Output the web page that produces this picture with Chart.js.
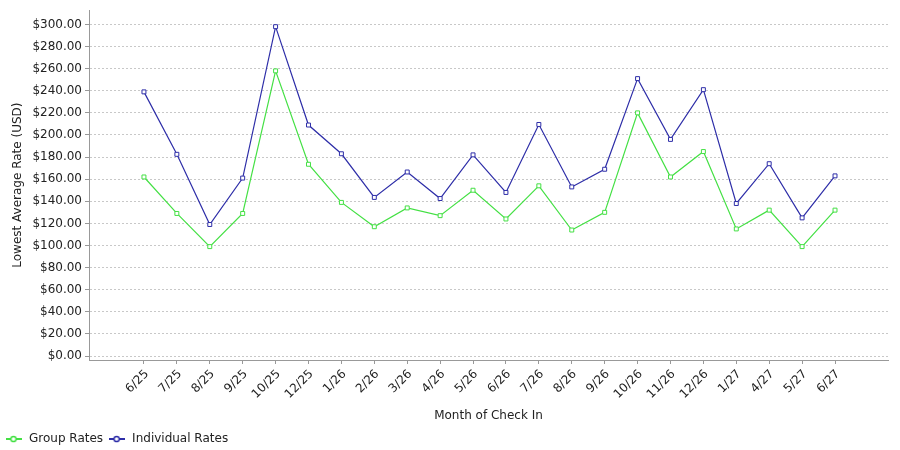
<!DOCTYPE html>
<html lang="en">
<head>
  <meta charset="UTF-8">
  <title>Lowest Average Rate</title>
  <script src="https://cdn.jsdelivr.net/npm/chart.js"></script>
  <style>
    body { margin: 0; background: #fff; }
    #wrap { width: 900px; height: 450px; }
  </style>
</head>
<body>
  <div id="wrap"><canvas id="rateChart" width="900" height="450"></canvas></div>
  <script>
    // month of check in
    const months = ['6/25', '7/25', '8/25', '9/25', '10/25', '12/25', '1/26', '2/26', '3/26', '4/26', '5/26',
                    '6/26', '7/26', '8/26', '9/26', '10/26', '11/26', '12/26', '1/27', '4/27', '5/27', '6/27'];
    const groupRates = [162, 129, 99, 129, 258, 173.5, 139, 117, 134, 127, 150, 124, 154, 114, 130, 220, 162, 185, 115, 132, 99, 132];
    const individualRates = [239, 182.5, 119, 161, 298, 209, 183, 143.5, 166.5, 142.5, 182, 148, 209.5, 153, 169, 251, 196, 241, 138, 174, 125, 163];
    const yTicks = [0, 20, 40, 60, 80, 100, 120, 140, 160, 180, 200, 220, 240, 260, 280, 300];

    const GREEN = '#44e044';
    const BLUE = '#2e2ea8';
    const FONT = 'DejaVu Sans';

    // little line + circle icon for the legend
    function legendIcon(color) {
      const c = document.createElement('canvas');
      c.width = 16; c.height = 8;
      const g = c.getContext('2d');
      g.strokeStyle = color; g.lineWidth = 2;
      g.beginPath(); g.moveTo(0, 4); g.lineTo(16, 4); g.stroke();
      g.fillStyle = '#fff'; g.lineWidth = 1.5;
      g.beginPath(); g.arc(8, 4, 2.6, 0, Math.PI * 2); g.fill(); g.stroke();
      return c;
    }

    function toPoints(vals) {
      return vals.map((v, i) => ({ x: i, y: v }));
    }

    const ctx = document.getElementById('rateChart').getContext('2d');
    new Chart(ctx, {
      type: 'line',
      data: {
        datasets: [{
          label: 'Group Rates',
          data: toPoints(groupRates),
          borderColor: GREEN,
          borderWidth: 1.2,
          pointStyle: 'rect',
          pointRadius: 2.8,
          pointBorderWidth: 1,
          pointBackgroundColor: '#fff',
          pointBorderColor: GREEN,
          tension: 0,
          fill: false
        }, {
          label: 'Individual Rates',
          data: toPoints(individualRates),
          borderColor: BLUE,
          borderWidth: 1.2,
          pointStyle: 'rect',
          pointRadius: 2.8,
          pointBorderWidth: 1,
          pointBackgroundColor: '#fff',
          pointBorderColor: BLUE,
          tension: 0,
          fill: false
        }]
      },
      options: {
        responsive: false,
        animation: false,
        layout: { padding: { top: 10, right: 12, left: 0, bottom: -5 } },
        plugins: {
          tooltip: { enabled: false },
          legend: {
            position: 'bottom',
            align: 'start',
            labels: {
              font: { family: FONT, size: 12 },
              color: '#222',
              usePointStyle: true,
              pointStyleWidth: 19,
              padding: 4,
              generateLabels: chart => chart.data.datasets.map((ds, i) => ({
                text: ds.label,
                pointStyle: legendIcon(ds.borderColor),
                fillStyle: ds.borderColor,
                strokeStyle: ds.borderColor,
                fontColor: '#222',
                datasetIndex: i,
                hidden: false
              }))
            }
          }
        },
        scales: {
          x: {
            type: 'linear',
            min: -1.67,
            max: 22.61,
            afterBuildTicks: scale => { scale.ticks = months.map((m, i) => ({ value: i })); },
            afterFit: scale => { scale.height = 69; },
            ticks: {
              autoSkip: false,
              minRotation: 45,
              maxRotation: 45,
              padding: 3,
              labelOffset: 3,
              font: { family: FONT, size: 12 },
              color: '#222',
              callback: v => months[v]
            },
            grid: { drawOnChartArea: false, drawTicks: true, tickLength: 4, tickColor: '#999', tickBorderDash: [] },
            border: { display: true, color: '#999' },
            title: { display: true, text: 'Month of Check In', font: { family: FONT, size: 12 }, color: '#222', padding: { top: 2, bottom: 6 } }
          },
          y: {
            min: -3.6,
            max: 312.9,
            afterBuildTicks: scale => { scale.ticks = yTicks.map(v => ({ value: v })); },
            afterFit: scale => { scale.width = 89; },
            ticks: {
              font: { family: FONT, size: 12 },
              color: '#222',
              padding: 3,
              callback: v => '$' + v.toFixed(2)
            },
            grid: { color: '#c8c8c8', tickLength: 4, tickColor: '#999', tickBorderDash: [] },
            border: { display: true, color: '#999', dash: [2, 2] },
            title: { display: true, text: 'Lowest Average Rate (USD)', font: { family: FONT, size: 12 }, color: '#222', padding: { top: 11, bottom: 0 } }
          }
        }
      }
    });
  </script>
</body>
</html>
